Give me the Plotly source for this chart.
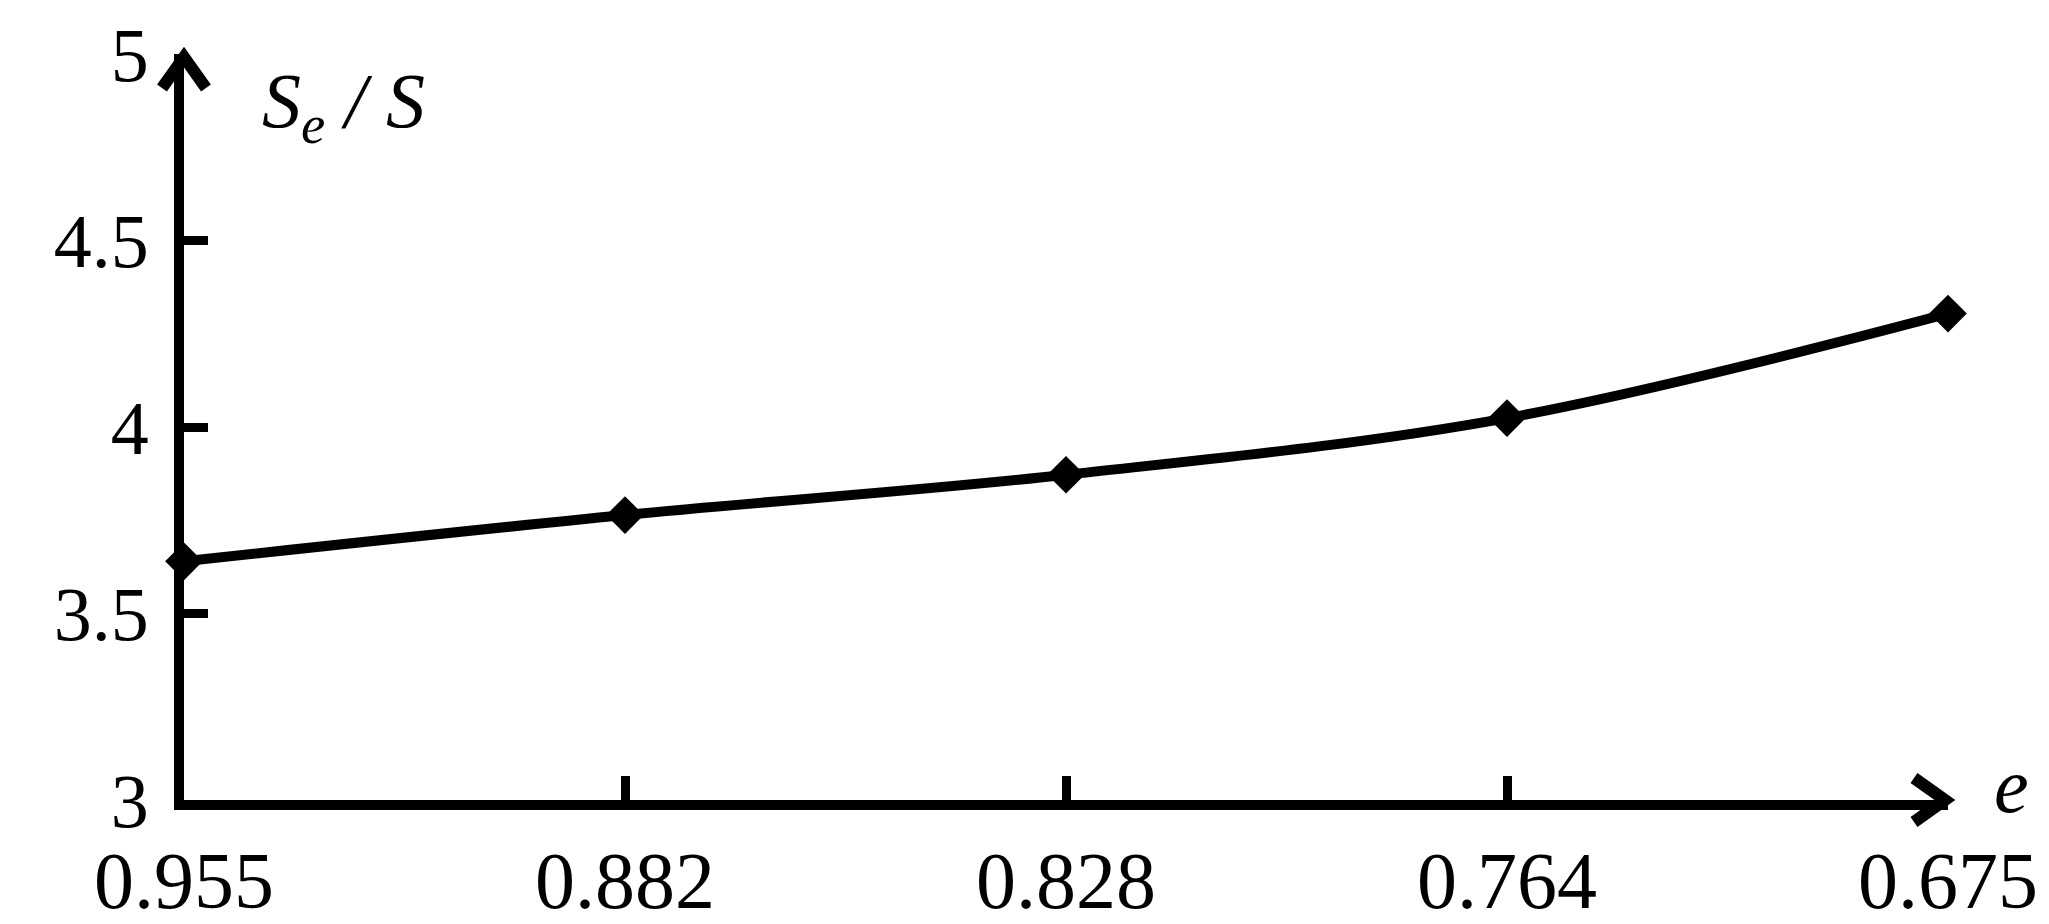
import plotly.graph_objects as go

# Data
e_labels = ['0.955', '0.882', '0.828', '0.764', '0.675']
se_over_s = [3.64, 3.764, 3.872, 4.024, 4.304]
y_ticks = [3, 3.5, 4, 4.5, 5]

FONT = 'Liberation Serif, Times New Roman, serif'
AXIS_W = 10

fig = go.Figure()

fig.add_trace(go.Scatter(
    x=list(range(len(e_labels))),
    y=se_over_s,
    mode='lines+markers',
    line=dict(color='black', width=10, shape='spline'),
    marker=dict(symbol='diamond', size=29, color='black'),
    cliponaxis=False,
    showlegend=False,
))

fig.update_xaxes(
    range=[0, len(e_labels) - 1],
    tickvals=list(range(len(e_labels))),
    ticktext=e_labels,
    ticks='inside', ticklen=24, tickwidth=9, tickcolor='black',
    showline=True, linecolor='black', linewidth=AXIS_W,
    showgrid=False, zeroline=False, automargin=False,
    ticklabelstandoff=2, ticklabeloverflow='allow',
    tickfont=dict(family=FONT, size=80, color='black'),
)
fig.update_yaxes(
    range=[y_ticks[0], y_ticks[-1]],
    tickvals=y_ticks,
    ticks='inside', ticklen=24, tickwidth=9, tickcolor='black',
    showline=True, linecolor='black', linewidth=AXIS_W,
    showgrid=False, zeroline=False, automargin=False,
    ticklabelstandoff=10, ticklabeloverflow='allow',
    tickfont=dict(family=FONT, size=76, color='black'),
)

# Open chevron arrow heads at the ends of both axes (pixel-sized shapes,
# anchored to the plot-area corners so they are not clipped)
arrow = dict(type='path', xref='paper', yref='paper', xsizemode='pixel', ysizemode='pixel',
             line=dict(color='black', width=12), layer='above')
fig.add_shape(arrow, xanchor=1, yanchor=0,
              path='M -34,22 L -3,0 L -34,-22')
fig.add_shape(arrow, xanchor=0, yanchor=1,
              path='M -22,-34 L 0,-3 L 22,-34')

# Axis titles
fig.add_annotation(xref='paper', yref='paper', x=0.043, y=0.93,
                   xanchor='left', yanchor='middle', showarrow=False,
                   text='<i>S<sub>e</sub> / S</i>',
                   font=dict(family=FONT, size=78, color='black'))
fig.add_annotation(xref='paper', yref='paper', x=1.036, y=0.02,
                   xanchor='center', yanchor='middle', showarrow=False,
                   text='<i>e</i>',
                   font=dict(family=FONT, size=78, color='black'))

fig.update_layout(
    width=2049, height=924,
    margin=dict(l=176, r=109, t=46, b=132),
    plot_bgcolor='white', paper_bgcolor='white',
)

fig.write_html('out.html')
